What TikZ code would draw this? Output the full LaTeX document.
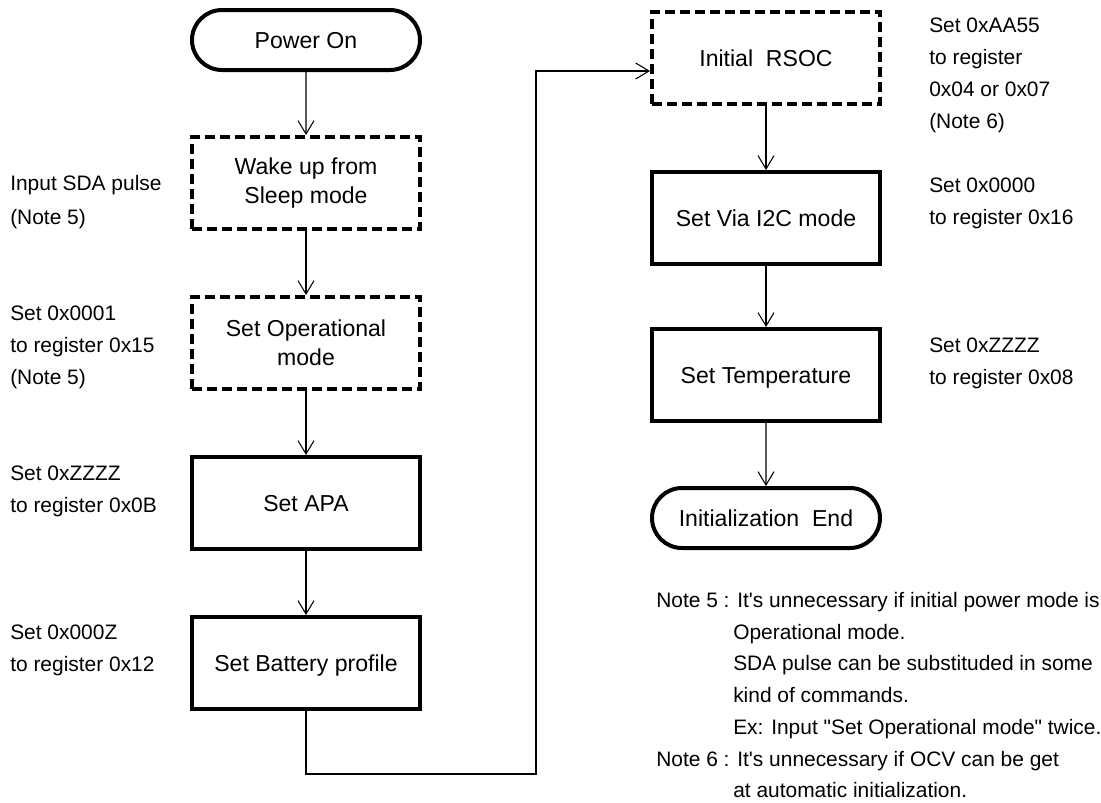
\documentclass[tikz,border=0pt]{standalone}
\usepackage{fontspec}
\setmainfont{Liberation Sans}
\usetikzlibrary{arrows.meta,shapes.misc}
\newcommand{\sq}{\XeTeXglyph\XeTeXcharglyph"0027\relax}
\newcommand{\dq}{\XeTeXglyph\XeTeXcharglyph"0022\relax}
\begin{document}
\begin{tikzpicture}[x=0.75pt,y=-0.75pt,
  boxfont/.style={font=\fontsize{17.3}{21.75}\selectfont},
  proc/.style={draw, line width=3pt, minimum width=171pt, minimum height=69pt, align=center, boxfont, inner sep=0pt},
  one/.style={text height=12.4pt, text depth=0pt},
  dproc/.style={proc, dash pattern=on 7.5pt off 3.75pt},
  term/.style={draw, line width=3pt, rounded rectangle, rounded rectangle arc length=180, minimum width=171pt, minimum height=45pt, boxfont, inner sep=0pt, text height=12.4pt, text depth=0pt},
  side/.style={anchor=base west, inner sep=0pt, font=\fontsize{15.7}{20}\selectfont},
  conn/.style={line width=0.8pt, -{Straight Barb[length=10pt,width=12pt,line width=0.8pt]}}
]
\useasboundingbox (0,0) rectangle (1101,803);
% left column
\node[term] (pon) at (306,40) {Power On};
\node[dproc] (wake) at (306,183) {Wake up from\\Sleep mode};
\node[dproc] (oper) at (306,343) {Set Operational\\mode};
\node[proc,one] (apa) at (306,503) {Set APA};
\node[proc,one] (batt) at (306,663) {Set Battery\ profile};
% right column
\node[dproc,one] (rsoc) at (766,58) {Initial\ \ RSOC};
\node[proc,one] (i2c) at (766,218) {Set Via\ I2C\ mode};
\node[proc,one] (temp) at (766,375) {Set Temperature};
\node[term] (iend) at (766,518) {Initialization\ \ End};
% connectors
\draw[conn] (pon) -- (wake);
\draw[conn] (wake) -- (oper);
\draw[conn] (oper) -- (apa);
\draw[conn] (apa) -- (batt);
\coordinate (j1) at (536,774);
\coordinate (j2) at (536,71);
\draw[conn] (batt.south) |- (j1) -- (j2) -- (j2 -| rsoc.west);
\draw[conn] (rsoc) -- (i2c);
\draw[conn] (i2c) -- (temp);
\draw[conn] (temp) -- (iend);
% left side texts
\node[side] (t1) at (10,190.5) {Input SDA pulse};
\node[side] (t2) at (10,224.5) {(Note 5)};
\node[side] (t3) at (10,320.5) {Set 0x0001};
\node[side] (t4) at (10,352.5) {to register 0x15};
\node[side] (t5) at (10,384.5) {(Note 5)};
\node[side] (t6) at (10,480.5) {Set 0xZZZZ};
\node[side] (t7) at (10,512.5) {to register 0x0B};
\node[side] (t8) at (10,639.5) {Set 0x000Z};
\node[side] (t9) at (10,671.5) {to register 0x12};
% right side texts
\node[side] (r1) at (929,32.5) {Set 0xAA55};
\node[side] (r2) at (929,64.5) {to register};
\node[side] (r3) at (929,96.5) {0x04 or 0x07};
\node[side] (r4) at (929,128.5) {(Note 6)};
\node[side] (r5) at (929,192.5) {Set 0x0000};
\node[side] (r6) at (929,224.5) {to register 0x16};
\node[side] (r7) at (929,352.5) {Set 0xZZZZ};
\node[side] (r8) at (929,384.5) {to register 0x08};
% notes
\node[side] (n1) at (656,607.5) {Note 5 : It\sq s unnecessary if initial power mode is};
\node[side] (n2) at (733,639.5) {Operational mode.};
\node[side] (n3) at (733,670.5) {SDA pulse can be substituded in some};
\node[side] (n4) at (733,702.5) {kind of commands.};
\node[side] (n5) at (733,734.5) {Ex: Input \dq Set Operational mode\dq\ twice.};
\node[side] (n6) at (656,766.5) {Note 6 : It\sq s unnecessary if OCV can be get};
\node[side] (n7) at (733,797.5) {at automatic initialization.};
\end{tikzpicture}
\end{document}
